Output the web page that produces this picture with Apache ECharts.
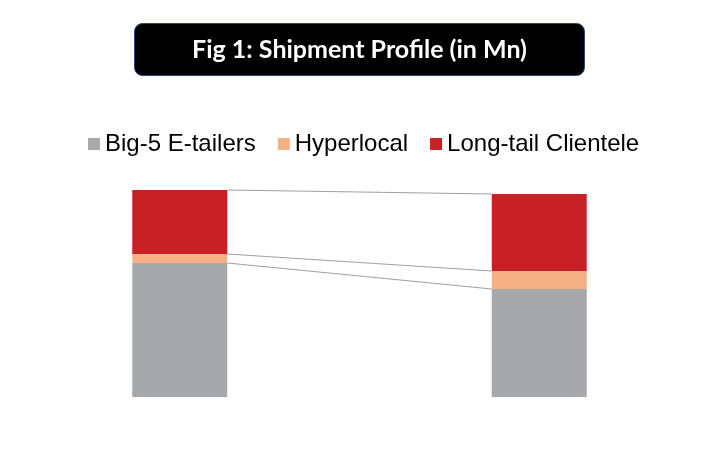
<!DOCTYPE html>
<html>
<head>
<meta charset="utf-8">
<script src="https://cdn.jsdelivr.net/npm/echarts@6/dist/echarts.min.js"></script>
<style>html,body{margin:0;padding:0;background:#fff}#c{width:719px;height:475px}</style>
</head>
<body>
<div id="c"></div>
<script>
// ---- data ----
var categories = ["Period 1", "Period 2"];
var seriesNames = ["Big-5 E-tailers", "Hyperlocal", "Long-tail Clientele"];
var big5 = [13.4, 10.8];
var hyperlocal = [0.9, 1.8];
var longTail = [6.4, 7.7];
var titleText = "Fig 1: Shipment Profile (in Mn)";

var colors = ["#A6A8AC", "#F5B084", "#C72125"];
var BAR_W = 95;

// cumulative tops for connector lines
var layers = [big5, hyperlocal, longTail];
var connectors = [];
var cum = [0, 0];
for (var k = 0; k < layers.length; k++) {
  cum = [cum[0] + layers[k][0], cum[1] + layers[k][1]];
  connectors.push([0, cum[0], cum[1]]);
}

var chart = echarts.init(document.getElementById('c'));
chart.setOption({
  animation: false,
  backgroundColor: '#fff',
  graphic: [{
    type: 'group',
    children: [{
      type: 'rect',
      shape: {x: 134.5, y: 23.5, width: 450, height: 52, r: 8},
      style: {fill: '#000', stroke: '#2B4A7E', lineWidth: 1}
    }, {
      type: 'text',
      x: 359.5, y: 50,
      style: {
        text: titleText, fill: '#fff', align: 'center', verticalAlign: 'middle',
        font: 'bold 25px Lato'
      }
    }]
  }],
  legend: {
    data: seriesNames,
    top: 127,
    left: 83,
    icon: 'rect',
    itemWidth: 12,
    itemHeight: 12,
    itemGap: 22,
    textStyle: {fontFamily: 'Liberation Sans', fontSize: 24, color: '#000'}
  },
  grid: {left: 0, right: 0, top: 177, bottom: 78},
  xAxis: {
    type: 'category',
    data: categories,
    axisLine: {show: false}, axisTick: {show: false}, axisLabel: {show: false}
  },
  yAxis: {
    type: 'value', min: 0, max: 22,
    axisLine: {show: false}, axisTick: {show: false}, axisLabel: {show: false},
    splitLine: {show: false}
  },
  series: [
    {name: seriesNames[0], type: 'bar', stack: 's', barWidth: BAR_W, data: big5, itemStyle: {color: colors[0]}},
    {name: seriesNames[1], type: 'bar', stack: 's', barWidth: BAR_W, data: hyperlocal, itemStyle: {color: colors[1]}},
    {name: seriesNames[2], type: 'bar', stack: 's', barWidth: BAR_W, data: longTail, itemStyle: {color: colors[2]}},
    {
      type: 'custom',
      silent: true,
      data: connectors,
      encode: {x: 0, y: 1},
      renderItem: function (params, api) {
        var p1 = api.coord([0, api.value(1)]);
        var p2 = api.coord([1, api.value(2)]);
        return {
          type: 'line',
          shape: {x1: p1[0] + BAR_W / 2, y1: p1[1], x2: p2[0] - BAR_W / 2, y2: p2[1]},
          style: {stroke: '#A0A0A0', lineWidth: 1}
        };
      },
      z: 3
    }
  ]
});
</script>
</body>
</html>
